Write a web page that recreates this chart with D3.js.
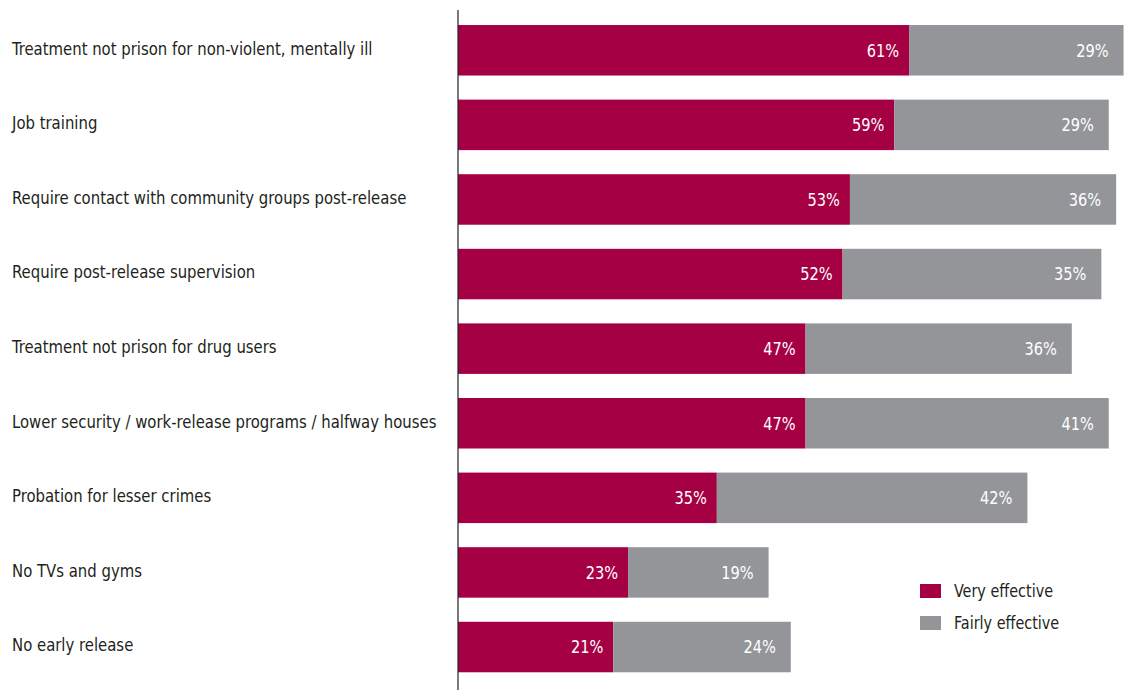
<!DOCTYPE html>
<html><head><meta charset="utf-8">
<script src="https://cdn.jsdelivr.net/npm/d3@7"></script>
<style>
body{margin:0;background:#fff;}
text{font-family:"Liberation Sans Narrow","DejaVu Sans Condensed","Roboto Condensed",sans-serif;}
</style></head>
<body>
<svg id="chart" width="1125" height="690"></svg>
<script>
const categories = [
  "Treatment not prison for non-violent, mentally ill",
  "Job training",
  "Require contact with community groups post-release",
  "Require post-release supervision",
  "Treatment not prison for drug users",
  "Lower security / work-release programs / halfway houses",
  "Probation for lesser crimes",
  "No TVs and gyms",
  "No early release"
];
const veryEffective = [61, 59, 53, 52, 47, 47, 35, 23, 21];
const fairlyEffective = [29, 29, 36, 35, 36, 41, 42, 19, 24];
const seriesNames = ["Very effective", "Fairly effective"];
const colors = ["#A50044", "#939598"];

const svg = d3.select("#chart");
const x0 = 458;
const SX = 0.92; // horizontal condensing of text
const x = d3.scaleLinear().domain([0, 90]).range([x0, x0 + 90 * 7.395]);
const y = d3.scaleBand().domain(categories).range([10.1, 687.2]).paddingInner(0.323).paddingOuter(0.2);

const data = categories.map((c, i) => ({cat: c, v: [veryEffective[i], fairlyEffective[i]]}));

const rows = svg.selectAll("g.row").data(data).enter().append("g").attr("class", "row");

seriesNames.forEach((s, k) => {
  rows.append("rect")
    .attr("x", d => x(k === 0 ? 0 : d.v[0]))
    .attr("y", d => y(d.cat))
    .attr("width", d => x(d.v[k]) - x(0))
    .attr("height", y.bandwidth())
    .attr("fill", colors[k]);
  rows.append("text")
    .attr("transform", d => `translate(${x(k === 0 ? d.v[0] : d.v[0] + d.v[1]) - (k === 0 ? 10 : 15)},${y(d.cat) + y.bandwidth() / 2}) scale(0.9,1)`)
    .attr("dy", "0.35em")
    .attr("text-anchor", "end")
    .attr("fill", "#fff")
    .attr("font-size", 18)
    .text(d => d.v[k] + "%");
});

rows.append("text")
  .attr("transform", d => `translate(12,${y(d.cat) + y.bandwidth() / 2 - 2}) scale(${SX},1)`)
  .attr("dy", "0.35em")
  .attr("fill", "#231f20")
  .attr("font-size", 18)
  .text(d => d.cat);

svg.append("line")
  .attr("x1", x0).attr("x2", x0)
  .attr("y1", 10).attr("y2", 690)
  .attr("stroke", "#231f20").attr("stroke-width", 1.2);

const legend = svg.append("g");
seriesNames.forEach((s, k) => {
  legend.append("rect").attr("x", 920).attr("y", 584 + k * 32).attr("width", 21).attr("height", 14).attr("fill", colors[k]);
  legend.append("text")
    .attr("transform", `translate(954,${591 + k * 32}) scale(0.89,1)`)
    .attr("dy", "0.35em")
    .attr("fill", "#231f20").attr("font-size", 18).text(s);
});
</script>
</body></html>
